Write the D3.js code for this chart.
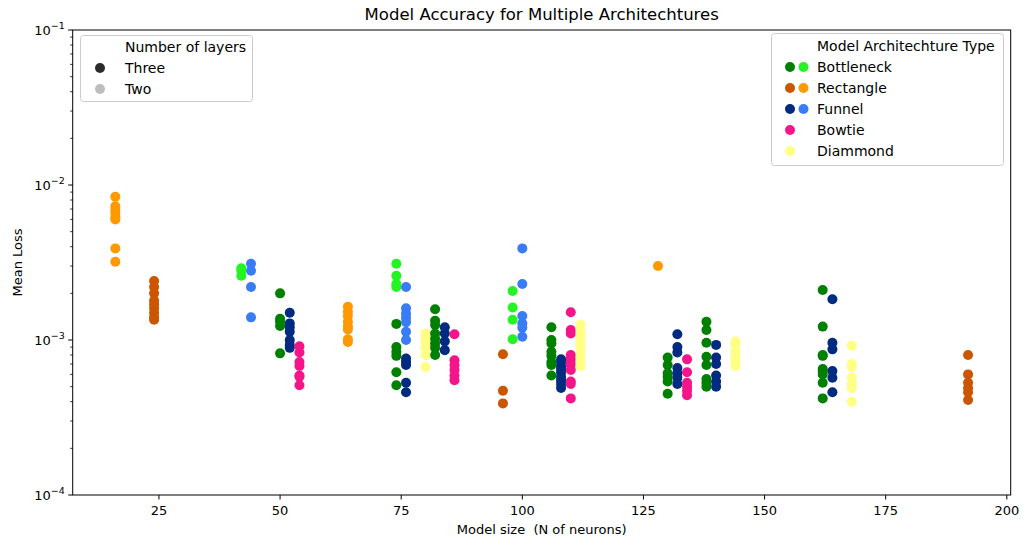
<!DOCTYPE html>
<html>
<head>
<meta charset="utf-8">
<script src="https://cdn.jsdelivr.net/npm/d3@7"></script>
<style>
  body { margin: 0; background: #fff; }
  text { font-family: "DejaVu Sans", sans-serif; fill: #000; }
</style>
</head>
<body>
<svg id="chart" width="1023" height="541"></svg>
<script>
// categories
var archTypes = ["Bottleneck", "Rectangle", "Funnel", "Bowtie", "Diammond"];
var layerTypes = ["Three", "Two"];

// one entry per vertical cluster of runs
var groupSize = [16, 24, 42, 44, 50, 52, 54, 64, 74, 74, 76, 76, 80, 82, 84, 86, 96,
                 98, 100, 106, 108, 110, 112, 128, 130, 132, 134, 138, 140, 144, 162, 164, 168, 192];
var groupArch = ["Rectangle", "Rectangle", "Bottleneck", "Funnel", "Bottleneck", "Funnel", "Bowtie",
                 "Rectangle", "Bottleneck", "Bottleneck", "Funnel", "Funnel", "Diammond", "Bottleneck",
                 "Funnel", "Bowtie", "Rectangle", "Bottleneck", "Funnel", "Bottleneck", "Funnel",
                 "Bowtie", "Diammond", "Rectangle", "Bottleneck", "Funnel", "Bowtie", "Bottleneck",
                 "Funnel", "Diammond", "Bottleneck", "Funnel", "Diammond", "Rectangle"];
var groupLayers = ["Two", "Three", "Two", "Two", "Three", "Three", "Three", "Two", "Two", "Three",
                   "Two", "Three", "Three", "Three", "Three", "Three", "Three", "Two", "Two", "Three",
                   "Three", "Three", "Three", "Two", "Three", "Three", "Three", "Three", "Three",
                   "Three", "Three", "Three", "Three", "Three"];
var groupLoss = [
  [0.0084, 0.0073, 0.0069, 0.0066, 0.0062, 0.006, 0.0039, 0.0032],
  [0.0024, 0.0022, 0.002, 0.0018, 0.0017, 0.0016, 0.0015, 0.0014, 0.00135],
  [0.0029, 0.0028, 0.0026],
  [0.0031, 0.0028, 0.0022, 0.0014],
  [0.002, 0.00137, 0.00131, 0.00123, 0.00082],
  [0.0015, 0.00128, 0.00121, 0.00113, 0.001, 0.00093, 0.00089],
  [0.00091, 0.00083, 0.00072, 0.00068, 0.00059, 0.00058, 0.00051],
  [0.00164, 0.00152, 0.00143, 0.00131, 0.00122, 0.00117, 0.00101, 0.00097],
  [0.0031, 0.0026, 0.0023, 0.0022],
  [0.00127, 0.0009, 0.00084, 0.00079, 0.00062, 0.00051],
  [0.0022, 0.0016, 0.00148, 0.00139, 0.0013, 0.00113, 0.001],
  [0.00076, 0.00072, 0.00069, 0.00053, 0.00046],
  [0.0011, 0.00103, 0.00096, 0.00089, 0.0008, 0.00067],
  [0.00158, 0.00133, 0.00125, 0.0011, 0.00102, 0.00095, 0.00089, 0.0008],
  [0.00121, 0.0011, 0.00098, 0.00086],
  [0.00109, 0.00074, 0.00069, 0.00064, 0.00059, 0.00055],
  [0.00081, 0.00047, 0.00039],
  [0.00207, 0.00162, 0.00135, 0.00101],
  [0.0039, 0.0023, 0.00143, 0.00128, 0.0012, 0.00105],
  [0.00121, 0.001, 0.00095, 0.00084, 0.00079, 0.00072, 0.00069, 0.00059],
  [0.00075, 0.00072, 0.00068, 0.00065, 0.00062, 0.00058, 0.00055, 0.00052, 0.00049],
  [0.00151, 0.00116, 0.0011, 0.0008, 0.00076, 0.00072, 0.00069, 0.00064, 0.00054, 0.00052, 0.00042],
  [0.00126, 0.00118, 0.0011, 0.00103, 0.00096, 0.0009, 0.00083, 0.00077, 0.00072, 0.00068],
  [0.003],
  [0.00077, 0.00069, 0.00061, 0.00058, 0.00054, 0.00045],
  [0.00109, 0.0009, 0.00083, 0.00066, 0.00061, 0.00057, 0.00052],
  [0.00075, 0.00062, 0.00053, 0.0005, 0.00047, 0.00044],
  [0.00131, 0.00116, 0.00096, 0.00078, 0.00069, 0.00056, 0.00053, 0.0005],
  [0.00093, 0.00077, 0.0007, 0.00059, 0.00054, 0.0005],
  [0.00098, 0.00093, 0.00085, 0.0008, 0.00076, 0.00072, 0.00068],
  [0.0021, 0.00122, 0.0008, 0.00079, 0.00065, 0.00063, 0.0006, 0.00053, 0.00042],
  [0.00183, 0.00096, 0.00087, 0.00063, 0.00057, 0.00046],
  [0.00092, 0.0007, 0.00067, 0.00057, 0.00052, 0.00049, 0.0004],
  [0.0008, 0.0006, 0.00053, 0.00049, 0.00046, 0.00041]
];

// axis ticks
var xTicks = [25, 50, 75, 100, 125, 150, 175, 200];
var yExponents = [-1, -2, -3, -4];

// colours: [three layers, two layers]
var palette = {
  Bottleneck: ["#008000", "#22f522"],
  Rectangle: ["#cc5500", "#ff9900"],
  Funnel: ["#002b80", "#3a7cf6"],
  Bowtie: ["#f5148a", "#f5148a"],
  Diammond: ["#ffff85", "#ffff85"]
};
var layerColor = { Three: "#2b2b2b", Two: "#bdbdbd" };

var points = [];
groupLoss.forEach(function (losses, i) {
  losses.forEach(function (v) {
    points.push({ size: groupSize[i], arch: groupArch[i], layers: groupLayers[i], loss: v });
  });
});

var pLeft = 72.7, pRight = 1010.7, pTop = 30, pBottom = 495;
var svg = d3.select('#chart');

var x = d3.scaleLinear().domain([7.2, 200.8]).range([pLeft, pRight]);
var y = d3.scaleLog().domain([1e-4, 1e-1]).range([pBottom, pTop]);

// minor ticks on log axis
var minor = [];
[-4, -3, -2].forEach(function (e) {
  for (var k = 2; k <= 9; k++) minor.push(k * Math.pow(10, e));
});

var g = svg.append('g');

g.selectAll('circle').data(points)
  .enter().append('circle')
    .attr('cx', function (d) { return x(d.size); })
    .attr('cy', function (d) { return y(d.loss); })
    .attr('r', 5)
    .style('fill', function (d) { return palette[d.arch][d.layers === 'Three' ? 0 : 1]; });

// frame
svg.append('rect')
  .attr('x', pLeft).attr('y', pTop)
  .attr('width', pRight - pLeft).attr('height', pBottom - pTop)
  .style('fill', 'none').style('stroke', '#000').style('stroke-width', 1);

// x ticks
var xt = svg.append('g');
xt.selectAll('line').data(xTicks).enter().append('line')
  .attr('x1', function (d) { return x(d); }).attr('x2', function (d) { return x(d); })
  .attr('y1', pBottom).attr('y2', pBottom + 4.5)
  .style('stroke', '#000');
xt.selectAll('text').data(xTicks).enter().append('text')
  .attr('x', function (d) { return x(d); })
  .attr('y', pBottom + 20)
  .attr('text-anchor', 'middle')
  .style('font-size', '13px')
  .text(function (d) { return d; });

// y ticks
var yt = svg.append('g');
yt.selectAll('line.major').data(yExponents).enter().append('line')
  .attr('class', 'major')
  .attr('x1', pLeft).attr('x2', pLeft - 4.5)
  .attr('y1', function (d) { return y(Math.pow(10, d)); })
  .attr('y2', function (d) { return y(Math.pow(10, d)); })
  .style('stroke', '#000');
yt.selectAll('line.minor').data(minor).enter().append('line')
  .attr('class', 'minor')
  .attr('x1', pLeft).attr('x2', pLeft - 2.5)
  .attr('y1', function (d) { return y(d); })
  .attr('y2', function (d) { return y(d); })
  .style('stroke', '#000').style('stroke-width', 0.8);
var ylab = yt.selectAll('text').data(yExponents).enter().append('text')
  .attr('x', pLeft - 8)
  .attr('y', function (d) { return y(Math.pow(10, d)) + 4.5; })
  .attr('text-anchor', 'end')
  .style('font-size', '13px');
ylab.append('tspan').text('10');
ylab.append('tspan')
  .attr('dy', -6)
  .style('font-size', '9.5px')
  .text(function (d) { return '\u2212' + Math.abs(d); });

// titles
svg.append('text')
  .attr('x', (pLeft + pRight) / 2).attr('y', 20)
  .attr('text-anchor', 'middle')
  .style('font-size', '16.5px')
  .text('Model Accuracy for Multiple Architechtures');
svg.append('text')
  .attr('x', (pLeft + pRight) / 2).attr('y', 534)
  .attr('text-anchor', 'middle')
  .style('white-space', 'pre')
  .style('font-size', '13px')
  .text('Model size  (N of neurons)');
svg.append('text')
  .attr('transform', 'translate(22,' + ((pTop + pBottom) / 2) + ') rotate(-90)')
  .attr('text-anchor', 'middle')
  .style('font-size', '13px')
  .text('Mean Loss');

// legend: number of layers
var l1 = svg.append('g');
l1.append('rect')
  .attr('x', 80.5).attr('y', 35.5).attr('width', 172).attr('height', 66).attr('rx', 3)
  .style('fill', '#fff').style('fill-opacity', 0.8).style('stroke', '#cccccc');
l1.append('text').attr('x', 125).attr('y', 52).style('font-size', '14px').text('Number of layers');
var l1rows = l1.selectAll('g.row').data(layerTypes).enter().append('g')
  .attr('transform', function (d, i) { return 'translate(0,' + (68 + i * 21) + ')'; });
l1rows.append('circle').attr('cx', 100).attr('cy', 0).attr('r', 5)
  .style('fill', function (d) { return layerColor[d]; });
l1rows.append('text').attr('x', 125).attr('y', 5).style('font-size', '14px')
  .text(function (d) { return d; });

// legend: architecture type
var l2 = svg.append('g');
l2.append('rect')
  .attr('x', 771.5).attr('y', 33.5).attr('width', 232).attr('height', 132).attr('rx', 3)
  .style('fill', '#fff').style('fill-opacity', 0.8).style('stroke', '#cccccc');
l2.append('text').attr('x', 817).attr('y', 51).style('font-size', '14px').text('Model Architechture Type');
var l2rows = l2.selectAll('g.row').data(archTypes).enter().append('g')
  .attr('transform', function (d, i) { return 'translate(0,' + (67 + i * 21) + ')'; });
l2rows.append('circle').attr('cx', 790).attr('cy', 0).attr('r', 5)
  .style('fill', function (d) { return palette[d][0]; });
l2rows.filter(function (d) { return palette[d][0] !== palette[d][1]; })
  .append('circle').attr('cx', 803.5).attr('cy', 0).attr('r', 5)
  .style('fill', function (d) { return palette[d][1]; });
l2rows.append('text').attr('x', 817).attr('y', 5).style('font-size', '14px')
  .text(function (d) { return d; });
</script>
</body>
</html>
